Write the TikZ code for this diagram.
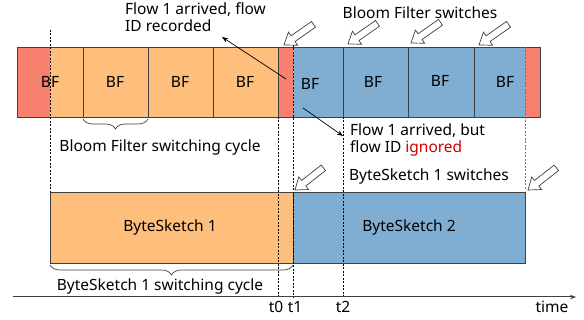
\documentclass[tikz,border=0pt]{standalone}
\usepackage{fontspec}
\setmainfont{Noto Sans}
\usetikzlibrary{arrows.meta,decorations.pathreplacing}
\definecolor{bfRed}{HTML}{F8806E}
\definecolor{bfOrange}{HTML}{FDBF7B}
\definecolor{bfBlue}{HTML}{80AED2}
\definecolor{bfEdge}{HTML}{404040}
\definecolor{bfIgnored}{HTML}{D00000}
\begin{document}
\begin{tikzpicture}[x=1pt,y=-1pt,>=Stealth]
\useasboundingbox[fill=white] (0,0) rectangle (584,320);
\tikzset{edge/.style={draw=bfEdge,line width=0.8pt},tick/.style={draw=black,line width=0.6pt,dash pattern=on 2pt off 1.5pt},lbl/.style={font=\fontsize{15.5}{17}\selectfont,inner sep=1pt},brc/.style={draw=bfEdge,line width=0.7pt,decorate,decoration={brace,mirror,amplitude=10pt}},swarrow/.pic={\draw[bfEdge,fill=white,line width=0.7pt,line join=miter] (0,0) -- (-11,8) -- (-11,3.5) -- (-36,3.5) -- (-36,-3.5) -- (-11,-3.5) -- (-11,-8) -- cycle;}}
% bloom filter bar
\path[fill=bfRed] (17,47) rectangle (50,117); \path[fill=bfOrange] (50,47) rectangle (278,117);
\path[fill=bfRed] (278,47) rectangle (293,117); \path[fill=bfBlue] (293,47) rectangle (525,117); \path[fill=bfRed] (525,47) rectangle (540,117);
\draw[edge] (17,47) rectangle (540,117);
\foreach \x in {83,148,213,278,343,408,474} \draw[edge] (\x,47) -- (\x,117);
\foreach \x/\y [count=\i] in {50/82,115/82,180/82,245/82,310/84,373/82,440/81,505/82} \node[lbl] (bf\i) at (\x,\y) {BF};
% bytesketch bar
\path[fill=bfOrange] (50,192) rectangle (293,263); \path[fill=bfBlue] (293,192) rectangle (525,263);
\draw[edge] (50,192) rectangle (525,263); \draw[edge] (293,192) -- (293,263);
\node[lbl] (bs1) at (170,227) {ByteSketch 1}; \node[lbl] (bs2) at (409,227) {ByteSketch 2};
% time marks
\draw[tick] (50,30) -- (50,192); \draw[tick] (278,117) -- (278,298); \draw[tick] (293,38) -- (293,298);
\draw[tick] (343,117) -- (343,298); \draw[tick,draw=black!55] (525,47) -- (525,190);
\coordinate (axL) at (13,297); \coordinate (axR) at (576,297);
\draw[edge,line width=1pt,-{Stealth[length=6pt]}] (axL) -- (axR);
\node[lbl] (t0) at (276,307) {t0}; \node[lbl] (t1) at (295,307) {t1}; \node[lbl] (t2) at (343,307) {t2}; \node[lbl] (time) at (552,307) {time};
% braces
\draw[brc] (83,119) -- (148,119); \draw[brc] (50,265) -- (293,265);
\node[lbl] (bfcycle) at (160,147) {Bloom Filter switching cycle};
\node[lbl] (bscycle) at (160,286) {ByteSketch 1 switching cycle};
% notes
\node[lbl,anchor=north west,align=left] (recnote) at (124,1) {Flow 1 arrived, flow\\ID recorded};
\coordinate (recFrom) at (286,79); \coordinate (recTo) at (222,37); \draw[->,line width=0.7pt] (recFrom) -- (recTo);
\node[lbl,anchor=north west,align=left] (ignnote) at (349,123) {Flow 1 arrived, but\\flow ID \textcolor{bfIgnored}{ignored}};
\coordinate (ignFrom) at (303,108); \coordinate (ignTo) at (343,136); \draw[->,line width=0.7pt] (ignFrom) -- (ignTo);
\node[lbl] (bfswitch) at (420,13) {Bloom Filter switches};
\node[lbl] (bsswitch) at (429,176) {ByteSketch 1 switches};
% switch arrows
\foreach \x/\y [count=\i] in {284/45,348/44,411/43,479/45} \pic[rotate=215] (bfsw\i) at (\x,\y) {swarrow};
\pic[rotate=218] (bssw1) at (295,190) {swarrow}; \pic[rotate=218] (bssw2) at (528,190) {swarrow};
\end{tikzpicture}
\end{document}
